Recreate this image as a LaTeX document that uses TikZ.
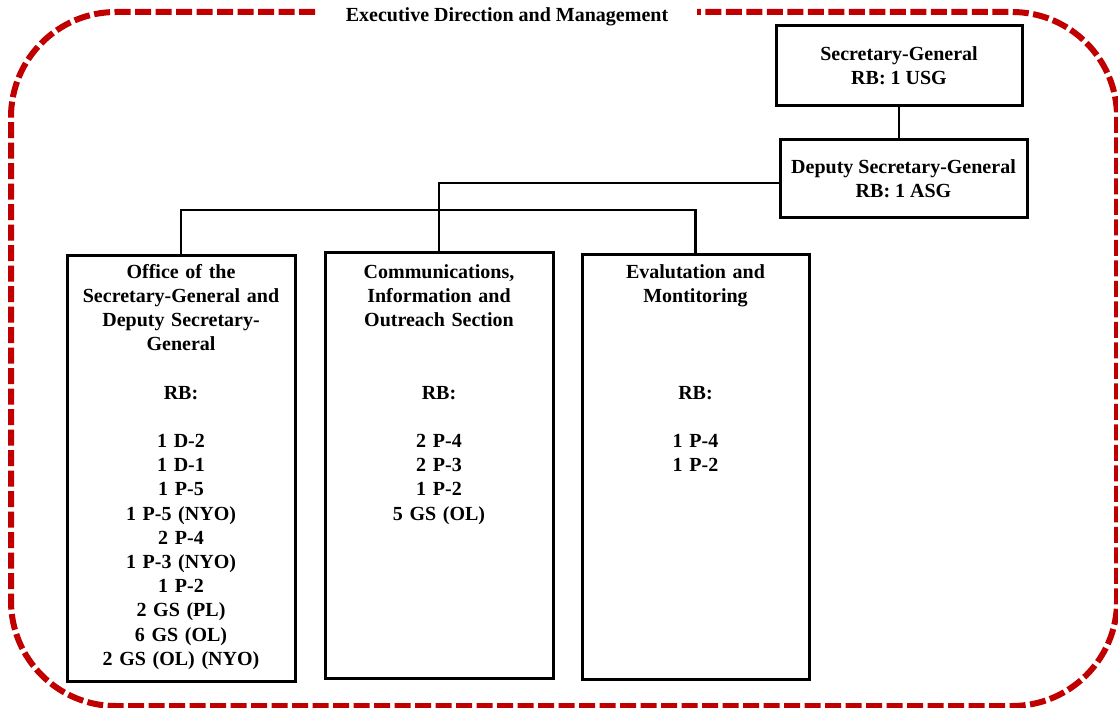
\documentclass[tikz,border=0pt]{standalone}
\usepackage{fontspec}
\setmainfont{Liberation Serif}
\definecolor{edred}{RGB}{192,0,0}
\begin{document}
\begin{tikzpicture}[x=1pt,y=-1pt,
  every node/.style={font=\fontsize{20}{24.2}\selectfont\bfseries},
  unit/.style={draw, line width=3pt, inner sep=0pt, align=center},
  link/.style={draw, line width=2.8pt},
  border/.style={draw=edred, line width=6pt, dash pattern=on 16pt off 4.5pt, rounded corners=105pt},
  body/.style={anchor=north, inner sep=0pt, align=center, text width=224pt}]
\useasboundingbox (0,0) rectangle (1118,708);

% outer dashed frame with its title
\node[anchor=base, inner sep=0pt] (title) at (507,22) {Executive Direction and Management};
\coordinate (gapL) at (315,12);
\coordinate (gapR) at (697,12);
\draw[border] (gapL) -- (11,12) -- (11,706) -- (1117,706) -- (1117,12) -- (gapR);

% top of the hierarchy
\node[unit, minimum width=246pt, minimum height=80pt] (sg) at (899,66)
  {Secretary-General\\RB: 1 USG};
\node[unit, minimum width=247pt, minimum height=78pt] (dsg) at (903.5,179)
  {Deputy Secretary-General\\RB: 1 ASG};

% the three units
\node[unit, minimum width=228pt, minimum height=425pt] (osg) at (181,468.5) {};
\node[unit, minimum width=228pt, minimum height=425pt] (cio) at (439,465.5) {};
\node[unit, minimum width=227pt, minimum height=424pt] (evm) at (695.5,467) {};

\node[body] (osgtxt) at (osg.north |- 0,261) {\strut Office of the\\Secretary-General and\\Deputy Secretary-\\General\\[24.2pt]RB:\\[24.2pt]1 D-2\\1 D-1\\1 P-5\\1 P-5 (NYO)\\2 P-4\\1 P-3 (NYO)\\1 P-2\\2 GS (PL)\\6 GS (OL)\\2 GS (OL) (NYO)};
\node[body] (ciotxt) at (cio.north |- 0,261) {\strut Communications,\\Information and\\Outreach Section\\[48.4pt]RB:\\[24.2pt]2 P-4\\2 P-3\\1 P-2\\5 GS (OL)};
\node[body] (evmtxt) at (evm.north |- 0,261) {\strut Evalutation and\\Montitoring\\[72.6pt]RB:\\[24.2pt]1 P-4\\1 P-2};

% connectors
\draw[link] (sg.south) -- (sg.south |- dsg.north);
\coordinate (dsgout) at ([yshift=-4pt]dsg.west);
\draw[link] (dsgout) -| (cio.north);
\coordinate (bus) at (0,210);
\draw[link] (osg.north) -- (osg.north |- bus) -- (evm.north |- bus) -- (evm.north);
\end{tikzpicture}
\end{document}
